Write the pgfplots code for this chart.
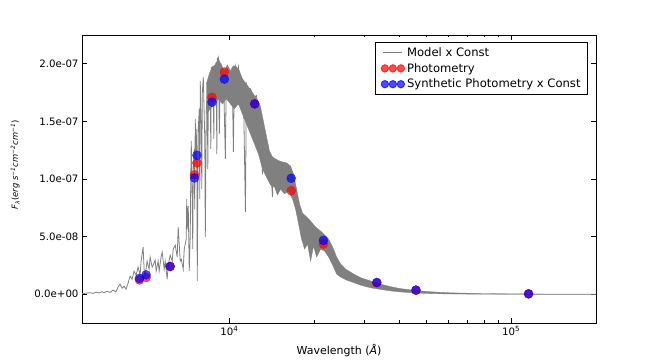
\documentclass[border=0pt]{standalone}
\usepackage{fontspec}
\setmainfont{DejaVu Sans}
\usepackage{pgfplots}
\pgfplotsset{compat=1.18}

% flux values are in units of 1e-7 erg/s/cm2/cm
\pgfplotstableread{
lam f
3000 0.0043
3100 0.0087
3201 0.013
3281 0.007
3363 0.0174
3447 0.0104
3532 0.0217
3591 0.013
3680 0.0261
3771 0.0157
3865 0.0348
3961 0.0217
4027 0.0609
4093 0.087
4161 0.052
4230 0.0696
4300 0.0435
4371 0.0957
4443 0.157
4516 0.130
4591 0.200
4667 0.165
4744 0.235
4822 0.165
4862 0.287
4942 0.409
4983 0.217
5024 0.157
5107 0.287
5191 0.217
5234 0.322
5321 0.235
5364 0.252
5453 0.296
5498 0.200
5589 0.287
5635 0.200
5728 0.330
5775 0.365
5871 0.217
5919 0.287
6017 0.130
6066 0.252
6166 0.339
6268 0.287
6320 0.391
6424 0.426
6530 0.322
6584 0.583
6693 0.287
6748 0.304
6860 0.217
6916 0.391
7030 0.478
7059 0.826
7088 0.565
7147 0.765
7206 0.200
7265 0.522
7295 1.000
7325 1.330
7385 0.826
7415 0.391
7445 1.087
7506 1.261
7537 0.739
7568 1.522
7630 1.130
7661 1.435
7693 0.113
7757 1.435
7821 1.609
7853 0.826
7885 1.852
7950 1.435
7983 0.913
8015 1.739
8081 1.887
8148 1.522
8181 1.348
8215 0.496
8283 1.609
8351 1.739
8385 1.087
8419 1.652
8488 1.870
8558 1.696
8593 1.261
8628 1.974
8700 1.826
8771 1.765
8807 1.348
8843 1.957
8916 1.991
8989 1.800
9026 1.217
9063 2.043
9138 2.061
9213 1.391
9289 1.913
9365 1.974
9442 1.852
9521 1.957
9678 1.174
9758 1.939
9838 1.974
10000 1.870
10082 1.913
10249 1.826
10333 1.235
10418 1.870
10504 1.983
10678 1.913
10765 1.974
10943 1.826
11033 1.843
11216 1.783
11401 0.713
11495 1.826
11685 1.765
11878 1.783
12074 1.739
12274 1.713
12477 1.722
12682 1.609
12892 1.600
13105 1.043
13213 1.460
13431 1.340
13653 1.200
13765 1.230
13993 1.130
14224 0.843
14341 1.110
14578 1.150
14941 1.087
15188 1.122
15566 1.070
15953 1.113
16485 1.070
}\spikes

\pgfplotstableread{
lam f
8283 1.826
8488 1.913
8700 1.974
8916 1.991
9138 2.043
9365 1.991
9599 1.939
9838 1.991
10082 1.939
10333 1.983
10590 1.974
10854 1.939
11124 1.870
11401 1.835
11685 1.800
12074 1.750
12477 1.700
12892 1.630
13213 1.500
13542 1.370
13879 1.243
14224 1.191
14578 1.174
14941 1.160
15439 1.148
15953 1.140
16485 1.113
16895 1.043
17315 0.913
17747 0.783
18189 0.704
18794 0.670
19421 0.635
20233 0.583
21079 0.548
21782 0.513
22507 0.478
23257 0.409
24032 0.322
24833 0.261
25872 0.217
26954 0.191
28081 0.165
29255 0.143
30730 0.126
32279 0.109
34464 0.087
37406 0.065
40600 0.048
45911 0.032
51918 0.021
61156 0.012
78214 0.006
100000 0.0035
127880 0.0017
200000 0.001
200000 -0.0017
127880 -0.0017
100000 -0.001
78214 0.0
61156 0.0017
51918 0.005
45911 0.010
40600 0.019
37406 0.028
34464 0.041
32279 0.052
30730 0.064
29255 0.078
27624 0.100
26085 0.122
24833 0.148
24032 0.174
23257 0.252
22507 0.322
21782 0.374
21079 0.391
20400 0.322
19904 0.417
19421 0.287
18949 0.435
18489 0.391
18040 0.478
17602 0.609
17174 0.739
16757 0.826
16217 0.896
15694 0.870
15188 0.913
14819 0.861
14459 0.930
13993 0.948
13542 1.017
13105 1.087
12682 1.217
12274 1.304
11878 1.391
11495 1.478
11124 1.565
10765 1.652
10418 1.609
10082 1.652
9758 1.696
9442 1.652
9138 1.696
8843 1.652
8558 1.609
8283 1.565
}\band

\begin{document}
\begin{tikzpicture}
\begin{axis}[
    scale only axis,
    width=514bp, height=288bp,
    xmode=log,
    xmin=3000, xmax=200000,
    ymin=-0.25, ymax=2.25,
    xtick={1e4,1e5},
    xticklabels={10\textsuperscript{4},10\textsuperscript{5}},
    ytick={0,0.5,1,1.5,2},
    yticklabels={0.0e+00,5.0e-08,1.0e-07,1.5e-07,2.0e-07},
    tick align=inside,
    major tick length=5bp,
    minor tick length=2.5bp,
    axis line style={line width=0.9bp},
    every tick/.style={black, line width=0.6bp},
    tick label style={font=\fontsize{10.2bp}{12bp}\selectfont},
    xlabel={Wavelength (\textit{Å})},
    xlabel style={font=\fontsize{11bp}{13bp}\selectfont,
        at={(axis description cs:0.5,-0.097)}, anchor=center},
    ylabel={\textit{F}\textsubscript{\textit{λ}}(\textit{erg s}\textsuperscript{\textit{−1}}\textit{cm}\textsuperscript{\textit{−2}}\textit{cm}\textsuperscript{\textit{−1}})},
    ylabel style={font=\fontsize{8.4bp}{10bp}\selectfont,
        at={(axis description cs:-0.130,0.549)}, anchor=center},
    legend style={at={(1,1)}, anchor=north east, xshift=-8bp, yshift=-7bp,
        draw=black, line width=0.9bp, font=\fontsize{11.6bp}{14bp}\selectfont,
        row sep=1.5bp, inner xsep=5bp, inner ysep=3bp, cells={anchor=west}},
]

% model spectrum: dense band plus the absorption spikes
\addplot[draw=gray, fill=gray, line width=0.3bp, forget plot] table[x=lam, y=f] {\band};
\addplot[gray, line width=0.8bp,
    legend image code/.code={\draw[gray, line width=0.8bp] (0bp,0bp) -- (19bp,0bp);}]
    table[x=lam, y=f] {\spikes};
\addlegendentry{Model x Const}

% observed photometry
\addplot[only marks, mark=*, red, opacity=0.7, mark size=4.5bp,
    mark options={draw=none, fill=red},
    legend image code/.code={\fill[red, opacity=0.7] (2bp,0bp) circle (3.7bp) (10bp,0bp) circle (3.7bp) (18bp,0bp) circle (3.7bp);}]
    coordinates {(4796,0.124) (5066,0.145) (6166,0.241) (7523,1.037) (7674,1.139) (8678,1.710) (9599,1.928) (12300,1.652) (16580,0.898) (21560,0.435) (33350,0.098) (45930,0.035) (115250,0.003)};
\addlegendentry{Photometry}

% synthetic photometry
\addplot[only marks, mark=*, blue, opacity=0.7, mark size=4.5bp,
    mark options={draw=none, fill=blue},
    legend image code/.code={\fill[blue, opacity=0.7] (2bp,0bp) circle (3.7bp) (10bp,0bp) circle (3.7bp) (18bp,0bp) circle (3.7bp);}]
    coordinates {(4796,0.137) (5066,0.168) (6166,0.241) (7523,1.009) (7674,1.206) (8678,1.667) (9599,1.867) (12300,1.652) (16580,1.006) (21560,0.467) (33350,0.102) (45930,0.035) (115250,0.003)};
\addlegendentry{Synthetic Photometry x Const}

\end{axis}
\path ([xshift=-82bp,yshift=-37bp]current axis.south west) rectangle ([xshift=64bp,yshift=35bp]current axis.north east);
\end{tikzpicture}
\end{document}
